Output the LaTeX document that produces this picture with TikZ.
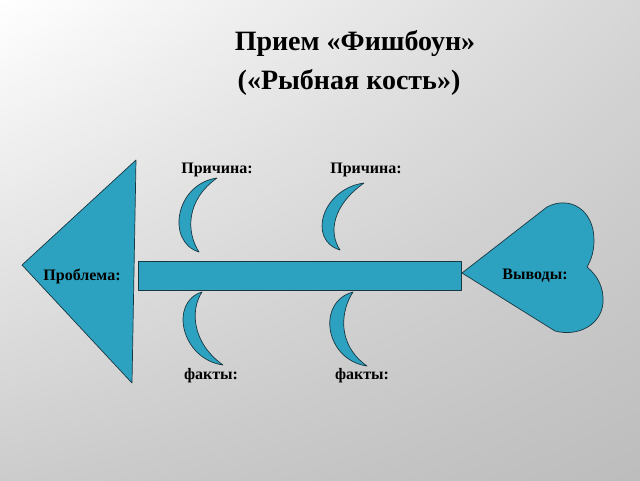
\documentclass[tikz,border=0pt]{standalone}
\usepackage{fontspec}
\setmainfont{Liberation Serif}
\usetikzlibrary{shadings}
\definecolor{fishblue}{RGB}{45,162,192}
\definecolor{fishline}{RGB}{25,55,65}
\begin{document}
\begin{tikzpicture}[x=1pt,y=-1pt,
    bone/.style={fill=fishblue,draw=fishline,line width=0.7pt,line join=round},
    lbl/.style={font=\bfseries\fontsize{16}{19}\selectfont,inner sep=0pt,anchor=base},
    ttl/.style={font=\bfseries\fontsize{28}{34}\selectfont,inner sep=0pt,anchor=base}]
    \useasboundingbox (0,0) rectangle (640,480);
    \shade[upper left=white,upper right=black!16,lower left=black!20,lower right=black!26] (0,0) rectangle (640,480);
    \node[ttl] (title1) at (355,50) {Прием «Фишбоун»};
    \node[ttl] (title2) at (349,89) {(«Рыбная кость»)};
    % head, spine and tail
    \filldraw[bone] (22,265) -- (136,160) -- (132,383) -- cycle;
    \filldraw[bone] (138,261) rectangle (461,290);
    \filldraw[bone] (462,273) -- (547,207) .. controls (570,195) and (594,210) .. (594,240)
        .. controls (594,252) and (591,260) .. (587,267)
        .. controls (598,276) and (604,288) .. (603,303)
        .. controls (601,325) and (578,337) .. (555,331) -- cycle;
    % ribs
    \filldraw[bone] (217,178) .. controls (175,184) and (166,242) .. (199,252) .. controls (186,232) and (186,200) .. (217,178) -- cycle;
    \filldraw[bone] (364,183) .. controls (322,189) and (307,240) .. (340,250) .. controls (328,232) and (333,205) .. (364,183) -- cycle;
    \filldraw[bone] (202,292) .. controls (169,302) and (181,359) .. (223,365) .. controls (192,343) and (190,310) .. (202,292) -- cycle;
    \filldraw[bone] (353,292) .. controls (316,302) and (325,360) .. (367,366) .. controls (336,344) and (341,310) .. (353,292) -- cycle;
    % labels
    \node[lbl] (cause1) at (217,173) {Причина:};
    \node[lbl] (cause2) at (366,173) {Причина:};
    \node[lbl] (problem) at (82,280) {Проблема:};
    \node[lbl] (result) at (535,279) {Выводы:};
    \node[lbl] (fact1) at (211,379) {факты:};
    \node[lbl] (fact2) at (362,379) {факты:};
\end{tikzpicture}
\end{document}
